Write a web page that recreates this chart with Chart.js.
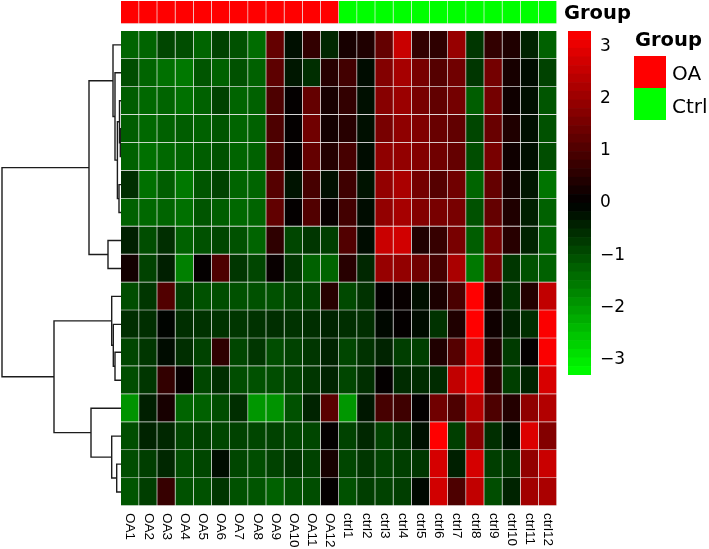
<!DOCTYPE html>
<html>
<head>
<meta charset="utf-8">
<script src="https://cdn.jsdelivr.net/npm/chart.js@4.4.1/dist/chart.umd.min.js"></script>
<style>
  html, body { margin: 0; padding: 0; background: #fff; }
  #wrap { position: relative; width: 709px; height: 549px; overflow: hidden; }
  #wrap canvas { position: absolute; left: 0; top: 0; }
  .txt { position: absolute; font-family: "DejaVu Sans", sans-serif; color: #000; line-height: 1; white-space: nowrap; }
  .ttl { font-weight: bold; font-size: 19.5px; }
  .lab { font-size: 20px; }
  .box { position: absolute; width: 32px; height: 32px; }
</style>
</head>
<body>
<div id="wrap">
  <canvas id="dendro" width="709" height="549"></canvas>
  <canvas id="heat" width="709" height="549"></canvas>
  <canvas id="scale" width="709" height="549"></canvas>
  <div class="txt ttl" style="left:564px; top:3px;">Group</div>
  <div class="txt ttl" style="left:635px; top:30px;">Group</div>
  <div class="box" style="left:634px; top:56px; background:#FF0000;"></div>
  <div class="box" style="left:634px; top:88px; background:#00FF00;"></div>
  <div class="txt lab" style="left:672px; top:63px;">OA</div>
  <div class="txt lab" style="left:672px; top:96px;">Ctrl</div>
</div>
<script>
// column labels + group annotation
const colLabels = ['OA1', 'OA2', 'OA3', 'OA4', 'OA5', 'OA6', 'OA7', 'OA8', 'OA9', 'OA10', 'OA11', 'OA12',
    'ctrl1', 'ctrl2', 'ctrl3', 'ctrl4', 'ctrl5', 'ctrl6', 'ctrl7', 'ctrl8', 'ctrl9', 'ctrl10', 'ctrl11', 'ctrl12'];
const colGroups = ['OA', 'OA', 'OA', 'OA', 'OA', 'OA', 'OA', 'OA', 'OA', 'OA', 'OA', 'OA',
    'Ctrl', 'Ctrl', 'Ctrl', 'Ctrl', 'Ctrl', 'Ctrl', 'Ctrl', 'Ctrl', 'Ctrl', 'Ctrl', 'Ctrl', 'Ctrl'];
const groupColors = { OA: '#FF0000', Ctrl: '#00FF00' };

// scaled values, one row per gene (top to bottom)
const cellValues = [
    [-1.3, -1.3, -0.9, -1.0, -1.3, -0.85, -1.05, -1.4, 1.3, -0.2, 0.65, -0.5, 0.3, 0.4, 1.3, 2.6, 0.65, 0.6, 1.95, -0.7, 0.65, 0.4, -0.45, -1.25],
    [-1.0, -1.3, -1.45, -1.55, -1.1, -1.25, -1.05, -1.25, 1.2, -0.3, -0.6, 0.5, 0.85, -0.15, 1.7, 2.15, 1.55, 1.1, 1.45, -0.7, 1.5, 0.3, -0.15, -0.85],
    [-1.2, -1.35, -1.3, -1.45, -1.25, -0.85, -1.3, -1.25, 1.0, 0.05, 1.3, 0.3, 0.65, -0.2, 1.75, 2.0, 1.55, 1.25, 1.5, -1.2, 1.5, 0.2, -0.2, -1.1],
    [-1.2, -1.35, -1.25, -1.2, -1.25, -1.1, -1.3, -1.25, 1.0, 0.05, 1.45, 0.25, 0.5, -0.2, 1.55, 1.85, 1.65, 1.35, 1.25, -0.9, 1.35, 0.4, -0.2, -1.05],
    [-1.25, -1.45, -1.35, -1.3, -1.2, -1.05, -1.3, -1.25, 1.05, 0.05, 1.3, 0.45, 0.9, -0.15, 1.85, 1.9, 1.7, 1.45, 1.3, -1.0, 1.55, 0.2, -0.2, -1.0],
    [-0.6, -1.45, -1.2, -1.55, -1.1, -0.85, -1.3, -1.3, 1.1, -0.25, 0.9, -0.2, 0.8, -0.25, 1.9, 2.2, 1.5, 1.1, 1.45, -1.3, 1.3, 0.3, -0.3, -1.5],
    [-1.25, -1.35, -1.3, -1.45, -1.1, -1.2, -1.35, -1.3, 1.25, 0.05, 1.05, 0.1, 0.85, -0.15, 1.9, 2.15, 1.7, 1.55, 1.55, -1.05, 1.3, 0.4, -0.4, -1.25],
    [-0.4, -1.0, -0.6, -1.25, -1.05, -0.9, -1.05, -1.3, 0.6, -0.9, -0.7, -0.8, 1.05, -0.15, 2.6, 2.7, 0.4, 0.7, 1.55, -1.2, 1.55, 0.5, -0.45, -1.3],
    [0.25, -0.85, -0.4, -1.65, 0.05, 1.0, -0.7, -0.9, 0.1, -0.7, -1.25, -1.3, 0.5, -0.5, 1.95, 1.9, 1.45, 0.9, 2.2, -1.55, 1.55, -0.7, -1.05, -1.25],
    [-1.0, -0.7, 1.05, -0.8, -1.05, -1.0, -1.05, -1.05, -1.05, -0.9, -0.9, 0.5, -0.95, -0.65, 0.05, 0.1, -0.2, 0.35, 0.95, 3.3, 0.35, -0.7, 0.45, 2.5],
    [-0.6, -0.6, -0.05, -0.6, -0.65, -0.65, -0.7, -0.65, -0.6, -0.65, -0.6, -0.45, -0.6, -0.6, -0.1, 0.05, -0.15, -0.65, 0.4, 3.3, 0.2, -0.45, -0.6, 3.25],
    [-0.9, -0.7, -0.15, -0.6, -0.85, 0.6, -0.9, -0.7, -1.0, -0.85, -0.7, -0.45, -0.9, -0.65, -0.45, -0.8, -0.8, 0.4, 1.1, 2.95, 0.4, -0.75, 0.05, 3.25],
    [-1.0, -0.7, 0.65, 0.1, -0.9, -0.6, -1.0, -1.05, -1.0, -0.85, -0.7, -0.45, -0.9, -0.6, 0.05, -0.55, -0.55, -0.55, 2.5, 3.05, 0.55, -0.8, -0.45, 2.8],
    [-1.9, -0.4, 0.3, -1.3, -1.25, -1.0, -0.6, -1.95, -1.9, -1.05, -0.45, 1.15, -1.95, -0.3, 0.9, 0.8, 0.05, 1.45, 1.0, 2.4, 1.0, 0.45, 1.85, 2.3],
    [-1.0, -0.45, -0.5, -0.9, -0.85, -0.9, -0.85, -0.9, -0.85, -0.9, -0.9, 0.05, -0.85, -0.5, -0.85, -0.7, -0.2, 3.3, -0.8, 1.75, -0.6, -0.2, 2.85, 1.7],
    [-1.0, -0.8, -0.5, -1.0, -0.9, -0.15, -0.9, -1.0, -0.85, -0.7, -0.85, 0.3, -0.9, -0.7, -0.85, -0.8, -0.7, 2.75, -0.4, 2.75, -0.8, -0.7, 1.9, 2.6],
    [-1.1, -0.8, 0.7, -1.05, -1.05, -0.7, -1.05, -1.1, -1.25, -1.05, -1.0, 0.05, -1.05, -0.8, -0.85, -0.8, -0.1, 2.7, 1.0, 2.5, -1.0, -0.45, 2.1, 2.2]
];

// row dendrogram, hclust style: negative = leaf (row number), positive = earlier merge
const mergePairs = [
    [-4, -5], [-3, 1], [-6, -7], [2, 3], [-2, 4], [-1, 5], [-8, -9], [6, 7],
    [-12, -13], [-11, 9], [-10, 10], [-16, -17], [-15, 12], [-14, 13], [11, 14], [8, 15]
];
const mergeHeights = [0.7, 1.5, 2.0, 3.6, 6, 8, 13, 32, 6, 7.7, 9.3, 4.3, 9.3, 30, 67, 119];

// colour key
const colorLimit = 3.3;
const colorTicks = [-3, -2, -1, 0, 1, 2, 3];
const colorSteps = 40;

function cellColor(v) {
    const t = Math.min(Math.abs(v) / colorLimit, 1);
    const c = Math.round(255 * t);
    return v >= 0 ? `rgb(${c},0,0)` : `rgb(0,${c},0)`;
}

const yMin = -1.07;   // leaves room above the rows for the group strip
const rowsY = { type: 'linear', min: yMin, max: cellValues.length, reverse: true, display: false };
const noExtras = { legend: { display: false }, tooltip: { enabled: false } };

// --- heatmap ---
const colLabelPlugin = {
    id: 'colLabels',
    afterDraw(chart) {
        const { ctx, chartArea, scales: { x } } = chart;
        ctx.save();
        ctx.font = '13.5px "Liberation Sans", Arial, sans-serif';
        ctx.fillStyle = '#000';
        ctx.textAlign = 'left';
        ctx.textBaseline = 'middle';
        colLabels.forEach((lab, i) => {
            ctx.save();
            ctx.translate(x.getPixelForValue(i), chartArea.bottom + 7);
            ctx.rotate(Math.PI / 2);
            ctx.fillText(lab, 0, 0);
            ctx.restore();
        });
        ctx.restore();
    }
};

const barCommon = {
    borderColor: 'rgba(150,150,150,0.14)',
    borderWidth: { top: 0, left: 0, right: 1, bottom: 1 },
    borderSkipped: false,
    barPercentage: 1,
    categoryPercentage: 1,
    grouped: false
};

const heatDatasets = cellValues.map((row, r) => ({
    ...barCommon,
    data: row.map(() => [r, r + 1]),
    backgroundColor: row.map(cellColor)
}));
heatDatasets.push({
    ...barCommon,
    data: colGroups.map(() => [yMin, -0.25]),
    backgroundColor: colGroups.map(g => groupColors[g])
});

new Chart(document.getElementById('heat'), {
    type: 'bar',
    data: { labels: colLabels, datasets: heatDatasets },
    options: {
        responsive: false,
        animation: false,
        layout: { padding: { left: 121, right: 152, top: 1, bottom: 43 } },
        plugins: noExtras,
        scales: {
            x: { type: 'category', display: false },
            y: rowsY
        }
    },
    plugins: [colLabelPlugin]
});

// --- dendrogram ---
const nodes = [];
const dendroDatasets = mergePairs.map(([a, b], m) => {
    const pos = k => k < 0 ? { y: -k - 0.5, h: 0 } : nodes[k - 1];
    const A = pos(a), B = pos(b), h = mergeHeights[m];
    nodes.push({ y: (A.y + B.y) / 2, h: h });
    return {
        data: [{ x: A.h, y: A.y }, { x: h, y: A.y }, { x: h, y: B.y }, { x: B.h, y: B.y }],
        showLine: true,
        pointRadius: 0,
        borderColor: '#1c1c1c',
        borderWidth: 1.4,
        clip: false
    };
});

new Chart(document.getElementById('dendro'), {
    type: 'scatter',
    data: { datasets: dendroDatasets },
    options: {
        responsive: false,
        animation: false,
        layout: { padding: { left: 0, right: 588, top: 1, bottom: 43 } },
        plugins: noExtras,
        scales: {
            x: { type: 'linear', min: 0, max: 121, reverse: true, display: false },
            y: rowsY
        }
    }
});

// --- colour key ---
const stepSize = 2 * colorLimit / colorSteps;
const keyDatasets = [];
for (let i = 0; i < colorSteps; i++) {
    const lo = -colorLimit + i * stepSize;
    keyDatasets.push({
        data: [[lo, lo + stepSize]],
        backgroundColor: cellColor(lo + stepSize / 2),
        borderWidth: 0,
        barPercentage: 1,
        categoryPercentage: 1,
        grouped: false
    });
}

new Chart(document.getElementById('scale'), {
    type: 'bar',
    data: { labels: [''], datasets: keyDatasets },
    options: {
        responsive: false,
        animation: false,
        layout: { padding: { left: 568, right: 58, top: 31, bottom: 174 } },
        plugins: noExtras,
        scales: {
            x: { display: false },
            y: {
                position: 'right',
                min: -colorLimit,
                max: colorLimit,
                afterBuildTicks: s => { s.ticks = colorTicks.map(v => ({ value: v })); },
                afterFit: s => { s.width = 60; },
                grid: { display: false, drawTicks: false },
                border: { display: false },
                ticks: {
                    padding: 9,
                    color: '#000',
                    font: { family: '"DejaVu Sans", sans-serif', size: 17 },
                    callback: v => v < 0 ? '\u2212' + Math.abs(v) : String(v)
                }
            }
        }
    }
});
</script>
</body>
</html>
